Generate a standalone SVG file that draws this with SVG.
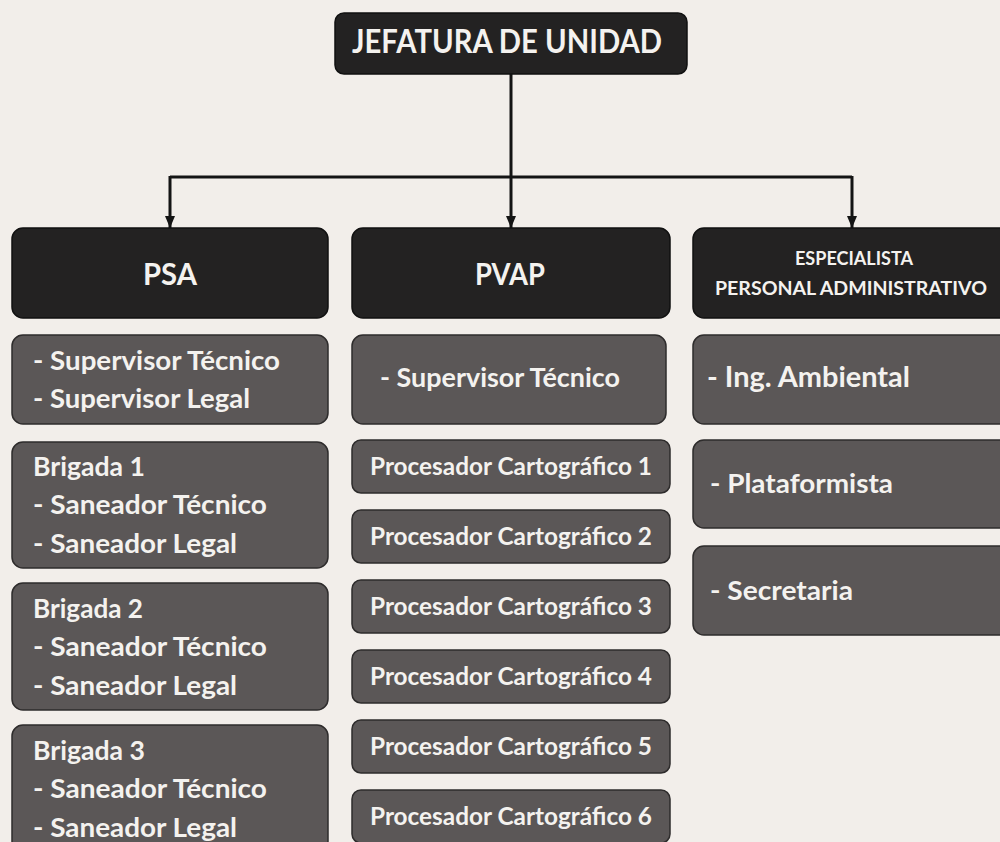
<svg xmlns="http://www.w3.org/2000/svg" width="1000" height="842" viewBox="0 0 1000 842">
<defs>
<style>
.hdr{fill:#232222;stroke:#111;stroke-width:1.5}
.sub{fill:#5b5757;stroke:#2e2c2c;stroke-width:1.5}
.t{font-family:Lato,"Open Sans","Liberation Sans",sans-serif;font-weight:bold;fill:#f4f2ef}
.conn{stroke:#141414;stroke-width:3;fill:none}
</style>
<marker id="arr" viewBox="0 0 12 10" refX="12" refY="5" markerWidth="12" markerHeight="10" markerUnits="userSpaceOnUse" orient="auto">
<path d="M0,0 L12,5 L0,10 Z" fill="#141414"/>
</marker>
</defs>
<rect x="0" y="0" width="1000" height="842" fill="#f2eeea"/>

<g id="connectors">
<line class="conn" x1="511" y1="73" x2="511" y2="177"/>
<line class="conn" x1="170" y1="177" x2="852" y2="177"/>
<path class="conn" d="M170,176 V228" marker-end="url(#arr)"/>
<path class="conn" d="M511,176 V228" marker-end="url(#arr)"/>
<path class="conn" d="M852,176 V228" marker-end="url(#arr)"/>
</g>

<g id="jefatura">
<rect class="hdr" x="335" y="13" width="352" height="61" rx="9"/>
<text class="t" x="352" y="53" font-size="32" textLength="310" lengthAdjust="spacingAndGlyphs">JEFATURA DE UNIDAD</text>
</g>

<g id="psa">
<rect class="hdr" x="12" y="228" width="316" height="90" rx="11"/>
<text class="t" x="143" y="285" font-size="30" textLength="54" lengthAdjust="spacingAndGlyphs">PSA</text>
</g>
<g id="pvap">
<rect class="hdr" x="352" y="228" width="318" height="90" rx="11"/>
<text class="t" x="475" y="285" font-size="30" textLength="70" lengthAdjust="spacingAndGlyphs">PVAP</text>
</g>
<g id="especialista">
<rect class="hdr" x="693" y="228" width="320" height="90" rx="11"/>
<text class="t" x="795" y="265" font-size="19" textLength="118" lengthAdjust="spacingAndGlyphs">ESPECIALISTA</text>
<text class="t" x="715" y="295" font-size="19" textLength="272" lengthAdjust="spacingAndGlyphs">PERSONAL ADMINISTRATIVO</text>
</g>

<g id="psa-supervisores">
<rect class="sub" x="12" y="335" width="316" height="89" rx="11"/>
<text class="t" x="33" y="370" font-size="26" textLength="247" lengthAdjust="spacingAndGlyphs">- Supervisor Técnico</text>
<text class="t" x="33" y="408" font-size="26" textLength="217" lengthAdjust="spacingAndGlyphs">- Supervisor Legal</text>
</g>
<g id="brigada1">
<rect class="sub" x="12" y="442" width="316" height="126" rx="11"/>
<text class="t" x="33" y="476" font-size="26" textLength="112" lengthAdjust="spacingAndGlyphs">Brigada 1</text>
<text class="t" x="33" y="514" font-size="26" textLength="234" lengthAdjust="spacingAndGlyphs">- Saneador Técnico</text>
<text class="t" x="33" y="553" font-size="26" textLength="204" lengthAdjust="spacingAndGlyphs">- Saneador Legal</text>
</g>
<g id="brigada2">
<rect class="sub" x="12" y="583" width="316" height="127" rx="11"/>
<text class="t" x="33" y="618" font-size="26" textLength="110" lengthAdjust="spacingAndGlyphs">Brigada 2</text>
<text class="t" x="33" y="656" font-size="26" textLength="234" lengthAdjust="spacingAndGlyphs">- Saneador Técnico</text>
<text class="t" x="33" y="695" font-size="26" textLength="204" lengthAdjust="spacingAndGlyphs">- Saneador Legal</text>
</g>
<g id="brigada3">
<rect class="sub" x="12" y="725" width="316" height="127" rx="11"/>
<text class="t" x="33" y="760" font-size="26" textLength="112" lengthAdjust="spacingAndGlyphs">Brigada 3</text>
<text class="t" x="33" y="798" font-size="26" textLength="234" lengthAdjust="spacingAndGlyphs">- Saneador Técnico</text>
<text class="t" x="33" y="837" font-size="26" textLength="204" lengthAdjust="spacingAndGlyphs">- Saneador Legal</text>
</g>

<g id="pvap-supervisor">
<rect class="sub" x="352" y="335" width="314" height="89" rx="11"/>
<text class="t" x="380" y="387" font-size="27" textLength="240" lengthAdjust="spacingAndGlyphs">- Supervisor Técnico</text>
</g>
<g id="procesador1">
<rect class="sub" x="352" y="440" width="318" height="53" rx="9"/>
<text class="t" x="370" y="475" font-size="24" textLength="282" lengthAdjust="spacingAndGlyphs">Procesador Cartográfico 1</text>
</g>
<g id="procesador2">
<rect class="sub" x="352" y="510" width="318" height="53" rx="9"/>
<text class="t" x="370" y="545" font-size="24" textLength="282" lengthAdjust="spacingAndGlyphs">Procesador Cartográfico 2</text>
</g>
<g id="procesador3">
<rect class="sub" x="352" y="580" width="318" height="53" rx="9"/>
<text class="t" x="370" y="615" font-size="24" textLength="282" lengthAdjust="spacingAndGlyphs">Procesador Cartográfico 3</text>
</g>
<g id="procesador4">
<rect class="sub" x="352" y="650" width="318" height="53" rx="9"/>
<text class="t" x="370" y="685" font-size="24" textLength="282" lengthAdjust="spacingAndGlyphs">Procesador Cartográfico 4</text>
</g>
<g id="procesador5">
<rect class="sub" x="352" y="720" width="318" height="53" rx="9"/>
<text class="t" x="370" y="755" font-size="24" textLength="282" lengthAdjust="spacingAndGlyphs">Procesador Cartográfico 5</text>
</g>
<g id="procesador6">
<rect class="sub" x="352" y="790" width="318" height="53" rx="9"/>
<text class="t" x="370" y="825" font-size="24" textLength="282" lengthAdjust="spacingAndGlyphs">Procesador Cartográfico 6</text>
</g>

<g id="ing-ambiental">
<rect class="sub" x="693" y="335" width="320" height="89" rx="11"/>
<text class="t" x="707" y="387" font-size="29" textLength="203" lengthAdjust="spacingAndGlyphs">- Ing. Ambiental</text>
</g>
<g id="plataformista">
<rect class="sub" x="693" y="440" width="320" height="88" rx="11"/>
<text class="t" x="710" y="493" font-size="27" textLength="183" lengthAdjust="spacingAndGlyphs">- Plataformista</text>
</g>
<g id="secretaria">
<rect class="sub" x="693" y="546" width="320" height="89" rx="11"/>
<text class="t" x="710" y="600" font-size="27" textLength="143" lengthAdjust="spacingAndGlyphs">- Secretaria</text>
</g>
</svg>
